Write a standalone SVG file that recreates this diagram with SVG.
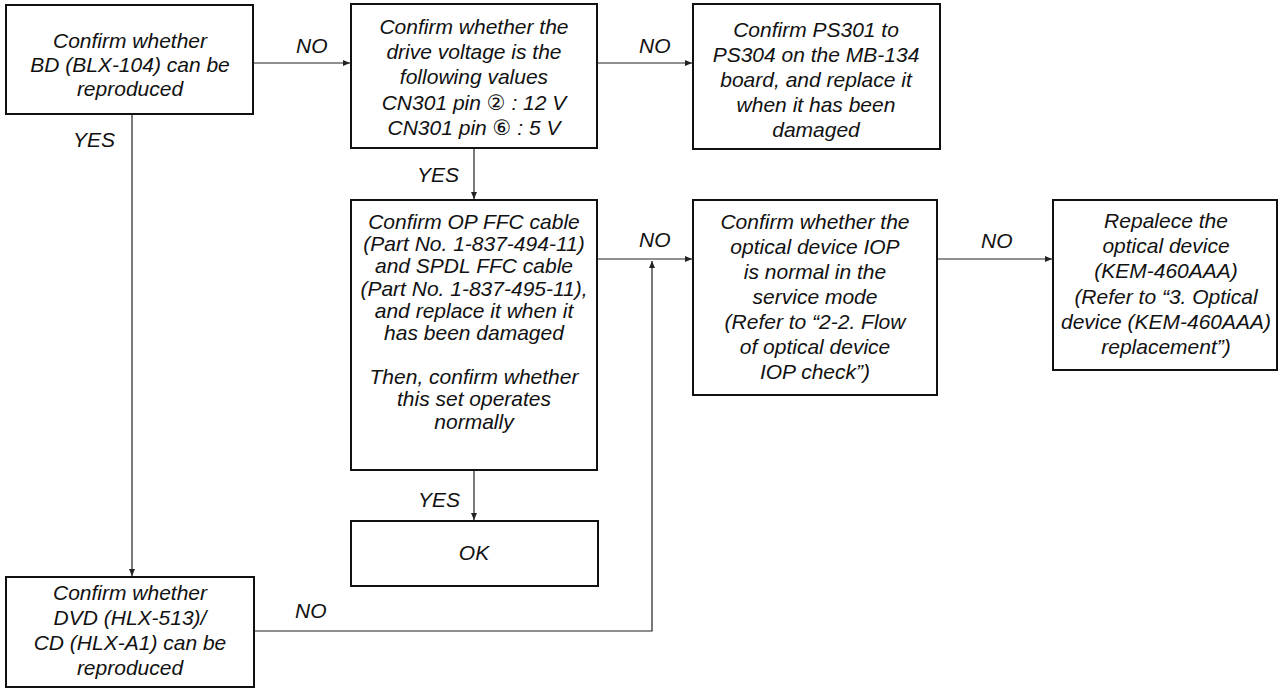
<svg xmlns="http://www.w3.org/2000/svg" width="1280" height="689" viewBox="0 0 1280 689">
<style>
.box{fill:#fff;stroke:#111;stroke-width:2}
.t{font-family:"Liberation Sans","DejaVu Sans",Arial,sans-serif;font-size:21px;font-style:italic;fill:#111;text-anchor:middle}
.l{font-family:"Liberation Sans","DejaVu Sans",Arial,sans-serif;font-size:21px;font-style:italic;fill:#111}
.c{fill:none;stroke:#222;stroke-width:1.2}
</style>
<defs>
<marker id="arr" markerUnits="userSpaceOnUse" markerWidth="8" markerHeight="6" refX="7" refY="3" orient="auto">
<path d="M0,0 L7,3 L0,6 Z" fill="#222"/>
</marker>
</defs>
<rect width="1280" height="689" fill="#fff"/>
<g id="connectors">
<line class="c" x1="253" y1="63" x2="350" y2="63" marker-end="url(#arr)"/>
<line class="c" x1="597" y1="63" x2="692" y2="63" marker-end="url(#arr)"/>
<line class="c" x1="474" y1="148" x2="474" y2="199" marker-end="url(#arr)"/>
<line class="c" x1="132" y1="114" x2="132" y2="576" marker-end="url(#arr)"/>
<line class="c" x1="597" y1="259" x2="692" y2="259" marker-end="url(#arr)"/>
<polyline class="c" points="254,631 652,631 652,261" marker-end="url(#arr)"/>
<line class="c" x1="474" y1="470" x2="474" y2="520" marker-end="url(#arr)"/>
<line class="c" x1="937" y1="259" x2="1052" y2="259" marker-end="url(#arr)"/>
<text class="l" x="296" y="53">NO</text>
<text class="l" x="639" y="53">NO</text>
<text class="l" x="417" y="182">YES</text>
<text class="l" x="73" y="147">YES</text>
<text class="l" x="639" y="247">NO</text>
<text class="l" x="295" y="618">NO</text>
<text class="l" x="418" y="507">YES</text>
<text class="l" x="981" y="248">NO</text>
</g>
<g id="n1">
<rect class="box" x="6" y="5" width="247" height="109"/>
<text class="t" x="130" y="48">Confirm whether</text>
<text class="t" x="130" y="72">BD (BLX-104) can be</text>
<text class="t" x="130" y="96">reproduced</text>
</g>
<g id="n2">
<rect class="box" x="351" y="4" width="246" height="144"/>
<text class="t" x="474" y="34">Confirm whether the</text>
<text class="t" x="474" y="59">drive voltage is the</text>
<text class="t" x="474" y="84">following values</text>
<text class="t" x="474" y="110">CN301 pin ② : 12 V</text>
<text class="t" x="474" y="135">CN301 pin ⑥ : 5 V</text>
</g>
<g id="n3">
<rect class="box" x="693" y="4" width="247" height="145"/>
<text class="t" x="816" y="37">Confirm PS301 to</text>
<text class="t" x="816" y="62">PS304 on the MB-134</text>
<text class="t" x="816" y="87">board, and replace it</text>
<text class="t" x="816" y="112">when it has been</text>
<text class="t" x="816" y="137">damaged</text>
</g>
<g id="n4">
<rect class="box" x="351" y="200" width="246" height="270"/>
<text class="t" x="474" y="229">Confirm OP FFC cable</text>
<text class="t" x="474" y="251">(Part No. 1-837-494-11)</text>
<text class="t" x="474" y="273">and SPDL FFC cable</text>
<text class="t" x="474" y="296">(Part No. 1-837-495-11),</text>
<text class="t" x="474" y="318">and replace it when it</text>
<text class="t" x="474" y="340">has been damaged</text>
<text class="t" x="474" y="384">Then, confirm whether</text>
<text class="t" x="474" y="406">this set operates</text>
<text class="t" x="474" y="429">normally</text>
</g>
<g id="n5">
<rect class="box" x="693" y="200" width="244" height="195"/>
<text class="t" x="815" y="229">Confirm whether the</text>
<text class="t" x="815" y="254">optical device IOP</text>
<text class="t" x="815" y="279">is normal in the</text>
<text class="t" x="815" y="304">service mode</text>
<text class="t" x="815" y="329">(Refer to “2-2. Flow</text>
<text class="t" x="815" y="354">of optical device</text>
<text class="t" x="815" y="379">IOP check”)</text>
</g>
<g id="n6">
<rect class="box" x="1053" y="200" width="224" height="170"/>
<text class="t" x="1166" y="228">Repalece the</text>
<text class="t" x="1166" y="253">optical device</text>
<text class="t" x="1166" y="278">(KEM-460AAA)</text>
<text class="t" x="1166" y="304">(Refer to “3. Optical</text>
<text class="t" x="1166" y="329">device (KEM-460AAA)</text>
<text class="t" x="1166" y="354">replacement”)</text>
</g>
<g id="n7">
<rect class="box" x="6" y="577" width="248" height="110"/>
<text class="t" x="130" y="600">Confirm whether</text>
<text class="t" x="130" y="625">DVD (HLX-513)/</text>
<text class="t" x="130" y="650">CD (HLX-A1) can be</text>
<text class="t" x="130" y="675">reproduced</text>
</g>
<g id="n8">
<rect class="box" x="351" y="521" width="247" height="65"/>
<text class="t" x="474" y="560">OK</text>
</g>
</svg>
